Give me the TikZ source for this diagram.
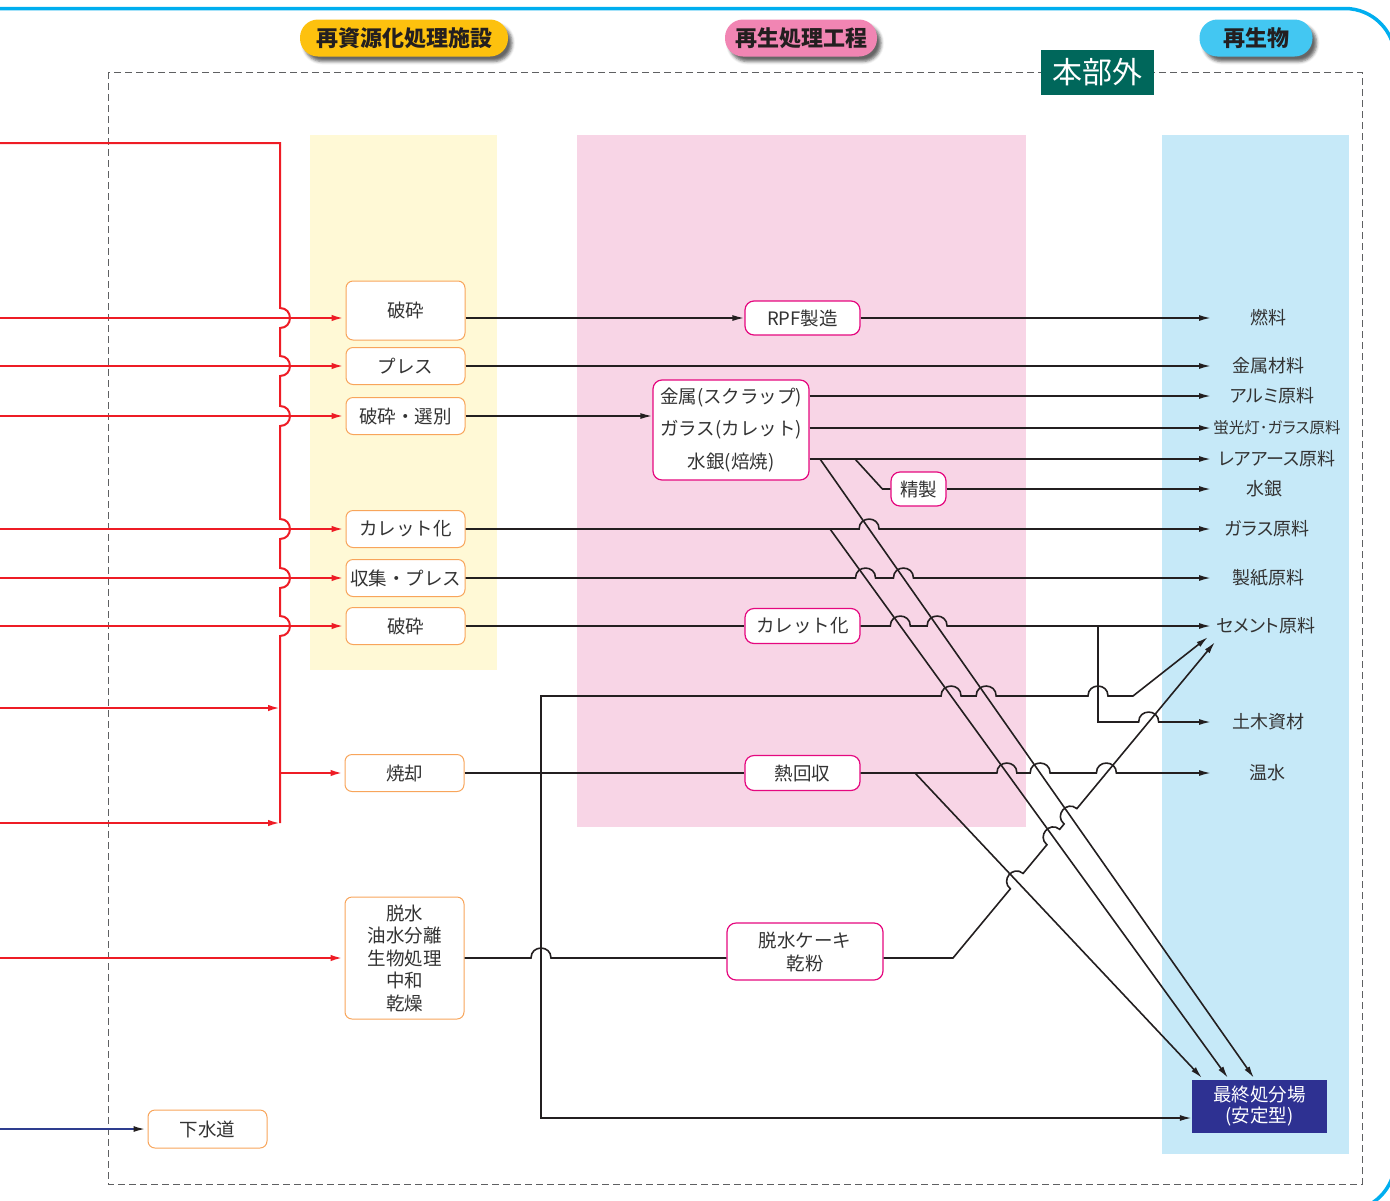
\documentclass[tikz,border=0pt]{standalone}
\usepackage{fontspec}
\usetikzlibrary{arrows.meta,calc,intersections,shadows.blur}
\newfontfamily\jp{Noto Sans CJK JP}
\newfontfamily\jpp[RawFeature=+palt]{Noto Sans CJK JP}

\definecolor{framecyan}{HTML}{00AEEF}
\definecolor{pillyellow}{HTML}{FDC10E}
\definecolor{pillpink}{HTML}{F185B3}
\definecolor{pillcyan}{HTML}{43C7F2}
\definecolor{bandyellow}{HTML}{FFF9D6}
\definecolor{bandpink}{HTML}{F8D5E6}
\definecolor{bandblue}{HTML}{C6E9F8}
\definecolor{flowred}{HTML}{EE1C25}
\definecolor{boxorange}{HTML}{F8A55B}
\definecolor{boxpink}{HTML}{E5087F}
\definecolor{landfill}{HTML}{2E3192}
\definecolor{sewer}{HTML}{2E3D8F}
\definecolor{outside}{HTML}{00675B}
\definecolor{ink}{HTML}{231F20}
\definecolor{txt}{HTML}{333333}
\definecolor{dashgray}{HTML}{5F6062}

\newcommand\crossat[3]{\path[name intersections={of=#1 and #2, by=#3}];}

\tikzset{
  wire/.style={draw=ink, line width=1.6pt},
  redflow/.style={draw=flowred, line width=2pt},
  arrowend/.style={-{Latex[length=12pt,width=6pt]}},
  redtip/.style={-{Latex[length=12pt,width=6.5pt]}, shorten >=2pt},
  hop/.style={bend left=90, looseness=1.7},
  hh/.style={insert path={-- ($(#1)+(-10,0)$) to[hop] ($(#1)+(10,0)$)}},
  vh/.style={insert path={-- ($(bustop |- #1)+(0,-10)$) to[hop] ($(bustop |- #1)+(0,10)$)}},
  dh/.style 2 args={insert path={-- ($(#1)!10pt!(#2)$) to[hop] ($(#1)!-10pt!(#2)$)}},
  obox/.style={draw=boxorange, line width=1pt, fill=white, rounded corners=7pt,
    minimum width=119pt, inner sep=0pt, align=center, text=txt,
    font=\jp\fontsize{18.5}{22.5}\selectfont},
  pbox/.style={draw=boxpink, line width=1.2pt, fill=white, rounded corners=9pt,
    inner sep=0pt, align=center, text=txt, font=\jp\fontsize{18.5}{23}\selectfont},
  outlbl/.style={text=txt, inner sep=0pt, font=\jpp\fontsize{18}{20}\selectfont},
  pill/.style={rounded corners=18pt, minimum height=37pt, inner sep=0pt, text=ink,
    font=\jp\bfseries\fontsize{22}{24}\selectfont,
    blur shadow={shadow xshift=4pt, shadow yshift=-5pt, shadow blur radius=3pt, shadow opacity=60}},
}

\begin{document}
\begin{tikzpicture}[x=1pt, y=-1pt]
\useasboundingbox (0,0) rectangle (1390,1200);
\clip (0,0) rectangle (1390,1200);

% column bands
\fill[bandyellow] (310,135) rectangle (497,670);
\fill[bandpink] (577,135) rectangle (1026,827);
\fill[bandblue] (1162,135) rectangle (1349,1154);

% outer frame and the dashed outside-the-plant area
\draw[framecyan, line width=3.5pt, rounded corners=50pt]
  (-30,8.5) -- (1395,8.5) -- (1395,1211) -- (-30,1211);
\draw[dashgray, line width=1pt, dash pattern=on 7pt off 4pt] (108,72) rectangle (1362,1184);

% column headings
\node[pill, fill=pillyellow, minimum width=208pt] (h1) at (404,38) {再資源化処理施設};
\node[pill, fill=pillpink, minimum width=152pt] (h2) at (801,38) {再生処理工程};
\node[pill, fill=pillcyan, minimum width=113pt] (h3) at (1256,38) {再生物};
\node[fill=outside, text=white, minimum width=113pt, minimum height=45pt, inner sep=0pt,
  font=\jp\fontsize{30}{32}\selectfont] (ext) at (1097.5,72.5) {本部外};

% recycling facilities
\node[obox, minimum height=59pt] (b1) at (405.5,310.5) {破砕};
\node[obox, minimum height=37pt] (b2) at (405.5,366) {プレス};
\node[obox, minimum height=37pt] (b3) at (405.5,416) {破砕・選別};
\node[obox, minimum height=37pt] (b4) at (405.5,529) {カレット化};
\node[obox, minimum height=37pt] (b5) at (405.5,578) {収集・プレス};
\node[obox, minimum height=37pt] (b6) at (405.5,626) {破砕};
\node[obox, minimum height=37pt] (b7) at (404.5,773) {焼却};
\node[obox, minimum height=122pt] (b8) at (404.5,958) {脱水\\油水分離\\生物処理\\中和\\乾燥};
\node[obox, minimum height=38pt] (sw) at (207.5,1129) {下水道};

% reprocessing steps
\node[pbox, minimum width=115pt, minimum height=34pt] (rpf) at (802.5,318) {RPF製造};
\node[pbox, minimum width=156pt, minimum height=100pt, font=\jp\fontsize{18.5}{32.5}\selectfont]
  (mb) at (731,430) {金属(スクラップ)\\ガラス(カレット)\\水銀(焙焼)};
\node[pbox, minimum width=55pt, minimum height=34pt] (sei) at (918.5,489) {精製};
\node[pbox, minimum width=115pt, minimum height=35pt] (kc) at (802.5,626) {カレット化};
\node[pbox, minimum width=115pt, minimum height=35pt] (nk) at (802.5,773) {熱回収};
\node[pbox, minimum width=156pt, minimum height=57pt] (dk) at (805,951.5) {脱水ケーキ\\乾粉};

% recycled products
\node[outlbl] (fuel) at (1268,318) {燃料};
\node[outlbl] (metal) at (1268,366) {金属材料};
\node[outlbl] (al) at (1272,396) {アルミ原料};
\node[outlbl, font=\jpp\fontsize{15.5}{18}\selectfont] (fl) at (1277,428) {蛍光灯･ガラス原料};
\node[outlbl] (re) at (1277,459) {レアアース原料};
\node[outlbl] (hg) at (1264,489) {水銀};
\node[outlbl] (glass) at (1267,529) {ガラス原料};
\node[outlbl] (paper) at (1268,578) {製紙原料};
\node[outlbl] (cement) at (1266,626) {セメント原料};
\node[outlbl] (doboku) at (1268,722) {土木資材};
\node[outlbl] (onsui) at (1267,773) {温水};
\node[fill=landfill, text=white, minimum width=135pt, minimum height=53pt, inner sep=0pt,
  align=center, font=\jp\fontsize{18.5}{21}\selectfont] (fin) at (1259.5,1106.5) {最終処分場\\(安定型)};

% fixed points of the wiring
\coordinate (lft) at (0,0);
\coordinate (tipx) at (1211,0);
\coordinate (bustop) at (280,143);
\coordinate (busbot) at (280,823);
\coordinate (in1) at (0,318);
\coordinate (in7) at (0,708);
\coordinate (in9) at (0,823);
\coordinate (hgb) at (855,459);
\coordinate (brc) at (1098,626);
\coordinate (ashj) at (541,773);
\coordinate (ashb) at (541,1118);
\coordinate (d1s) at (820,459);  \coordinate (d1e) at (1254,1078);
\coordinate (d2s) at (830,529);  \coordinate (d2e) at (1228,1078);
\coordinate (d3s) at (915,773);  \coordinate (d3e) at (1202,1078);
\coordinate (dks) at (953,958);  \coordinate (dke) at (1215,642);
\coordinate (das) at (1133,696); \coordinate (dae) at (1208,637);
\coordinate (x696c) at (1098,696);
\coordinate (x958) at (541,958);

% crossing points where a line jumps over another
\path[name path=D1] (d1s) -- (d1e);
\path[name path=D2] (d2s) -- (d2e);
\path[name path=D3] (d3s) -- (d3e);
\path[name path=DK] (dks) -- (dke);
\path[name path=Y529] (0,529) -- (1390,529);
\path[name path=Y578] (0,578) -- (1390,578);
\path[name path=Y626] (0,626) -- (1390,626);
\path[name path=Y696] (0,696) -- (1390,696);
\path[name path=Y722] (0,722) -- (1390,722);
\path[name path=Y773] (0,773) -- (1390,773);
\crossat{D1}{Y529}{x529}
\crossat{D2}{Y578}{x578a}
\crossat{D1}{Y578}{x578b}
\crossat{D2}{Y626}{x626a}
\crossat{D1}{Y626}{x626b}
\crossat{D2}{Y696}{x696a}
\crossat{D1}{Y696}{x696b}
\crossat{D2}{Y773}{x773a}
\crossat{D1}{Y773}{x773b}
\crossat{DK}{Y773}{x773c}
\crossat{DK}{Y722}{x722}
\crossat{DK}{D3}{k3}
\crossat{DK}{D2}{k2}
\crossat{DK}{D1}{k1}

% incoming waste (red)
\draw[redflow] (lft |- bustop) -- (bustop) [vh=in1] [vh=b2] [vh=b3] [vh=b4] [vh=b5] [vh=b6] -- (busbot);
\draw[redflow, redtip] (in1) -- (in1 -| b1.west);
\draw[redflow, redtip] (lft |- b2.west) -- (b2.west);
\draw[redflow, redtip] (lft |- b3.west) -- (b3.west);
\draw[redflow, redtip] (lft |- b4.west) -- (b4.west);
\draw[redflow, redtip] (lft |- b5.west) -- (b5.west);
\draw[redflow, redtip] (lft |- b6.west) -- (b6.west);
\draw[redflow, -{Latex[length=12pt,width=6.5pt]}] (in7) -- (in7 -| bustop);
\draw[redflow, -{Latex[length=12pt,width=6.5pt]}] (in9) -- (in9 -| bustop);
\draw[redflow, redtip] (bustop |- b7.west) -- (b7.west);
\draw[redflow, redtip] (lft |- b8.west) -- (b8.west);
\draw[draw=sewer, line width=1.8pt, -{Latex[length=12pt,width=6pt,color=ink]}, shorten >=2pt]
  (lft |- sw.west) -- (sw.west);

% processing flows (black)
\draw[wire, arrowend] (b1.east |- rpf) -- (rpf.west);
\draw[wire, arrowend] (rpf.east) -- (fuel -| tipx);
\draw[wire, arrowend] (b2.east) -- (metal -| tipx);
\draw[wire, arrowend] (b3.east) -- (b3.east -| mb.west);
\draw[wire, arrowend] (mb.east |- al) -- (al -| tipx);
\draw[wire, arrowend] (mb.east |- fl) -- (fl -| tipx);
\draw[wire, arrowend] (mb.east |- re) -- (re -| tipx);
\draw[wire] (hgb) -- ($(sei.west)+(-8,0)$) -- (sei.west);
\draw[wire, arrowend] (sei.east) -- (hg -| tipx);
\draw[wire, arrowend] (b4.east) [hh=x529] -- (glass -| tipx);
\draw[wire, arrowend] (b5.east) [hh=x578a] [hh=x578b] -- (paper -| tipx);
\draw[wire] (b6.east) -- (kc.west);
\draw[wire, arrowend] (kc.east) [hh=x626a] [hh=x626b] -- (cement -| tipx);
\draw[wire, arrowend] (brc) -- (brc |- doboku) [hh=x722] -- (doboku -| tipx);
\draw[wire] (b7.east) -- (nk.west);
\draw[wire, arrowend] (nk.east) [hh=x773a] [hh=x773b] [hh=x773c] -- (onsui -| tipx);
\draw[wire, arrowend] (d1s) -- (d1e);
\draw[wire, arrowend] (d2s) -- (d2e);
\draw[wire, arrowend] (d3s) -- (d3e);
\draw[wire, arrowend] (ashj) -- (ashj |- das) [hh=x696a] [hh=x696b] [hh=x696c] -- (das) -- (dae);
\draw[wire, arrowend] (ashj) -- (ashb) -- (ashb -| fin.west);
\draw[wire] (b8.east) [hh=x958] -- (dk.west |- b8.east);
\draw[wire, arrowend] (dk.east |- b8.east) -- (dks) [dh={k3}{dks}] [dh={k2}{dks}] [dh={k1}{dks}] -- (dke);
\end{tikzpicture}
\end{document}
